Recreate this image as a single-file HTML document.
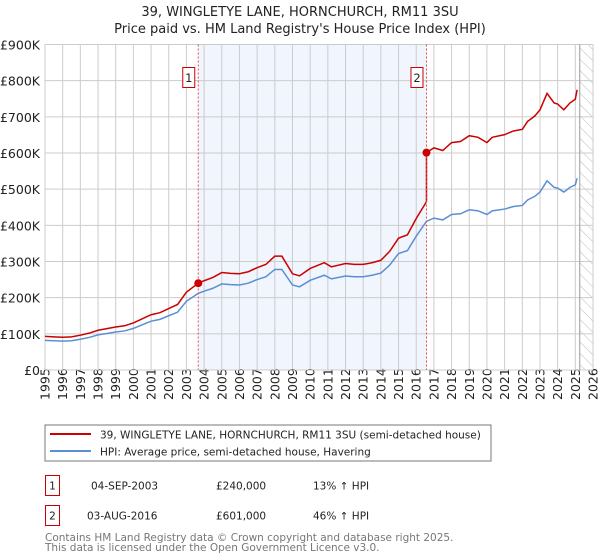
<!DOCTYPE html>
<html><head><meta charset="utf-8"><style>
body{margin:0;background:#fff;font-family:"DejaVu Sans","Liberation Sans",sans-serif;}
svg{display:block}
</style></head><body>
<svg id="c" width="600" height="560" xmlns="http://www.w3.org/2000/svg">
<text x="300" y="16" text-anchor="middle" font-size="13" fill="#222">39, WINGLETYE LANE, HORNCHURCH, RM11 3SU</text>
<text x="300" y="33" text-anchor="middle" font-size="13" fill="#222">Price paid vs. HM Land Registry's House Price Index (HPI)</text>
<g id="plot"></g>
<rect x="45" y="425" width="446" height="36" fill="#fff" stroke="#777"/>
<line x1="50" y1="434" x2="91" y2="434" stroke="#cc0000" stroke-width="2"/>
<text x="100" y="438.5" font-size="10.5" fill="#222">39, WINGLETYE LANE, HORNCHURCH, RM11 3SU (semi-detached house)</text>
<line x1="50" y1="451" x2="91" y2="451" stroke="#5b8fd4" stroke-width="2"/>
<text x="100" y="455.5" font-size="10.5" fill="#222">HPI: Average price, semi-detached house, Havering</text>
<g font-size="10.5" fill="#222">
<rect x="45.5" y="475.5" width="14" height="20" fill="none" stroke="#cc0000"/>
<text x="52.5" y="489.5" text-anchor="middle">1</text>
<text x="91" y="489.5">04-SEP-2003</text>
<text x="216" y="489.5">£240,000</text>
<text x="313" y="489.5">13% ↑ HPI</text>
<rect x="45.5" y="505.5" width="14" height="20" fill="none" stroke="#cc0000"/>
<text x="52.5" y="519.5" text-anchor="middle">2</text>
<text x="87" y="519.5">03-AUG-2016</text>
<text x="216" y="519.5">£601,000</text>
<text x="313" y="519.5">46% ↑ HPI</text>
</g>
<text x="45" y="541" font-size="10.5" fill="#777">Contains HM Land Registry data © Crown copyright and database right 2025.</text>
<text x="45" y="551" font-size="10.5" fill="#777">This data is licensed under the Open Government Licence v3.0.</text>
</svg>
<script>
const hpiYears=[1995,1995.5,1996,1996.5,1997,1997.5,1998,1998.5,1999,1999.5,2000,2000.5,2001,2001.5,2002,2002.5,2003,2003.67,2004,2004.5,2005,2005.5,2006,2006.5,2007,2007.5,2008,2008.4,2009,2009.4,2010,2010.8,2011.2,2012,2012.5,2013,2013.5,2014,2014.5,2015,2015.5,2016,2016.58,2017,2017.5,2018,2018.5,2019,2019.5,2020,2020.3,2021,2021.5,2022,2022.3,2022.7,2023,2023.4,2023.8,2024,2024.35,2024.7,2025,2025.1];
const hpiValues=[82,81,80,81,85,90,97,101,105,108,115,125,135,140,150,160,190,212,218,226,238,236,235,240,250,258,278,278,235,230,248,262,252,260,258,258,262,268,290,322,330,370,411,420,415,430,432,443,440,430,440,445,452,455,470,480,492,523,505,503,492,505,512,530];
const saleYears=[2003.67,2016.58];
const salePrices=[240,601];
const yTicks=[0,100,200,300,400,500,600,700,800,900];
const yTickLabels=["£0","£100K","£200K","£300K","£400K","£500K","£600K","£700K","£800K","£900K"];
const xTicks=[1995,1996,1997,1998,1999,2000,2001,2002,2003,2004,2005,2006,2007,2008,2009,2010,2011,2012,2013,2014,2015,2016,2017,2018,2019,2020,2021,2022,2023,2024,2025,2026];

const L=45,R=593,T=44.5,B=370,X0=1995,X1=2026,YMAX=900;
const sx=v=>L+(v-X0)/(X1-X0)*(R-L);
const sy=v=>B-v/YMAX*(B-T);
const NS="http://www.w3.org/2000/svg";
const g=document.getElementById('plot');
function mk(tag,at,parent){const e=document.createElementNS(NS,tag);for(const k in at)e.setAttribute(k,at[k]);(parent||g).appendChild(e);return e;}

mk('rect',{x:L,y:T,width:R-L,height:B-T,fill:'#fff'});
let sh=mk('rect',{x:sx(saleYears[0]),y:T,width:sx(saleYears[1])-sx(saleYears[0]),height:B-T,fill:'#eef3fc',opacity:0.8});


const defs=mk('defs',{});
const pat=mk('pattern',{id:'hatch',width:8,height:8,patternUnits:'userSpaceOnUse',patternTransform:'rotate(-45)'},defs);
mk('line',{x1:0,y1:0,x2:0,y2:8,stroke:'#bbb','stroke-width':1},pat);
const hx=sx(2025.25);
let ht=mk('rect',{x:hx,y:T,width:R-hx,height:B-T,fill:'url(#hatch)'});



xTicks.forEach(t=>{
 mk('line',{x1:sx(t),y1:T,x2:sx(t),y2:B,stroke:'#ccc','stroke-width':1});
 const tx=mk('text',{x:0,y:0,transform:`translate(${sx(t)+4.5},${B+30}) rotate(-90)`,'font-size':12.5,fill:'#222'});
 tx.textContent=t;
 
 
});
yTicks.forEach((t,i)=>{
 mk('line',{x1:L,y1:sy(t),x2:R,y2:sy(t),stroke:'#ccc','stroke-width':1});
 const tx=mk('text',{x:L-5,y:sy(t)+5,'text-anchor':'end','font-size':12.5,fill:'#222'});
 tx.textContent=yTickLabels[i];
 
 
});
mk('line',{x1:hx,y1:T,x2:hx,y2:B,stroke:'#999'});

let p=mk('polyline',{points:hpiYears.map((y,i)=>sx(y)+','+sy(hpiValues[i])).join(' '),fill:'none',stroke:'#5b8fd4','stroke-width':1.5});



function hpiAt(y){for(let i=1;i<hpiYears.length;i++){if(y<=hpiYears[i]){const f=(y-hpiYears[i-1])/(hpiYears[i]-hpiYears[i-1]);return hpiValues[i-1]+f*(hpiValues[i]-hpiValues[i-1]);}}return hpiValues[hpiValues.length-1];}
const r1=salePrices[0]/hpiAt(saleYears[0]), r2=salePrices[1]/hpiAt(saleYears[1]);
const pts=[];
hpiYears.forEach((y,i)=>{
 if(y<saleYears[1])pts.push(sx(y)+','+sy(hpiValues[i]*r1));
 else{ if(y===saleYears[1])pts.push(sx(y)+','+sy(hpiValues[i]*r1)); pts.push(sx(y)+','+sy(hpiValues[i]*r2)); }
});
let pr=mk('polyline',{points:pts.join(' '),fill:'none',stroke:'#cc0000','stroke-width':1.5});



saleYears.forEach((y,i)=>{
 let l=mk('line',{x1:sx(y),y1:T,x2:sx(y),y2:B,stroke:'#e05050','stroke-dasharray':'2,2','stroke-width':1});
 
 
 let c=mk('circle',{cx:sx(y),cy:sy(salePrices[i]),r:4,fill:'#cc0000'});
 
 
 let b=mk('rect',{x:sx(y)-15.5,y:67.5,width:12,height:20,fill:'#fff',stroke:'#cc0000'});
 
 
 let t=mk('text',{x:sx(y)-9.5,y:82,'text-anchor':'middle','font-size':11.5,fill:'#222'});
 t.textContent=String(i+1);
 
 
});
</script>
</body></html>
